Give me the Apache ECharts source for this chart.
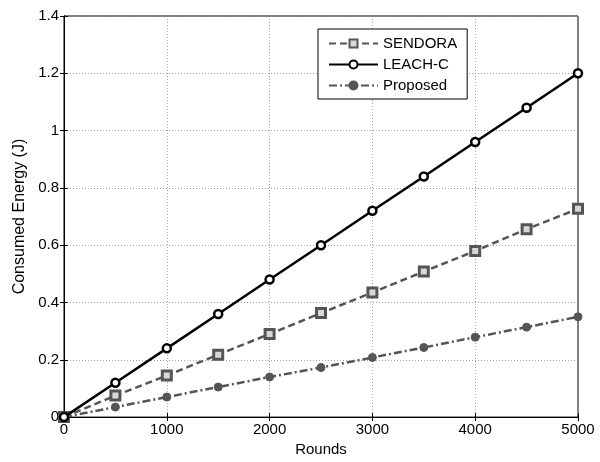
<!DOCTYPE html>
<html>
<head>
<meta charset="utf-8">
<script src="https://cdn.jsdelivr.net/npm/echarts@6/dist/echarts.min.js"></script>
<style>
html,body{margin:0;padding:0;background:#fff;}
#chart{width:600px;height:462px;}
</style>
</head>
<body>
<div id="chart"></div>
<script>
// Energy consumed per protocol over simulation rounds
const rounds = [0, 500, 1000, 1500, 2000, 2500, 3000, 3500, 4000, 4500, 5000];
const sendora = [0, 0.075, 0.145, 0.218, 0.29, 0.363, 0.435, 0.508, 0.58, 0.656, 0.727];
const leachC = [0, 0.12, 0.24, 0.36, 0.48, 0.60, 0.72, 0.84, 0.96, 1.08, 1.20];
const proposed = [0, 0.035, 0.07, 0.105, 0.14, 0.173, 0.208, 0.243, 0.279, 0.314, 0.35];
const seriesNames = ['SENDORA', 'LEACH-C', 'Proposed'];

const pairs = (ys) => rounds.map((x, i) => [x, ys[i]]);
const font = 'Liberation Sans, Arial, sans-serif';

const chart = echarts.init(document.getElementById('chart'));
const gridLine = { show: true, lineStyle: { color: '#8a8a8a', width: 0.8, type: [1, 2] } };
const frameTick = { inside: true, length: 4, lineStyle: { color: '#000' } };

chart.setOption({
  animation: false,
  backgroundColor: '#fff',
  grid: { left: 64, right: 22, top: 16, bottom: 41, show: true, borderColor: '#000', borderWidth: 1 },
  legend: {
    orient: 'vertical',
    left: 318, top: 29,
    itemWidth: 49, itemHeight: 10, itemGap: 4,
    padding: [6, 10, 5, 10],
    borderColor: '#000', borderWidth: 1,
    backgroundColor: '#fff',
    textStyle: { fontFamily: font, fontSize: 15, color: '#000', lineHeight: 17 },
    data: seriesNames
  },
  xAxis: [{
    type: 'value', min: 0, max: 5000, interval: 1000,
    name: 'Rounds', nameLocation: 'middle', nameGap: 24,
    nameTextStyle: { fontFamily: font, fontSize: 15, color: '#000' },
    axisLine: { lineStyle: { color: '#000' } },
    axisTick: frameTick,
    axisLabel: { fontFamily: font, fontSize: 15, color: '#000', margin: 5,
      formatter: v => String(v) },
    splitLine: gridLine
  }, {
    type: 'value', position: 'top', min: 0, max: 5000, interval: 1000,
    axisLine: { lineStyle: { color: '#000' } },
    axisTick: frameTick,
    axisLabel: { show: false }, splitLine: { show: false }
  }],
  yAxis: [{
    type: 'value', min: 0, max: 1.4, interval: 0.2,
    name: 'Consumed Energy (J)', nameLocation: 'middle', nameGap: 35,
    nameTextStyle: { fontFamily: font, fontSize: 16, color: '#000' },
    axisLine: { lineStyle: { color: '#000' } },
    axisTick: frameTick,
    axisLabel: { fontFamily: font, fontSize: 15, color: '#000', margin: 5,
      formatter: v => String(+v.toFixed(1)) },
    splitLine: gridLine
  }, {
    type: 'value', position: 'right', min: 0, max: 1.4, interval: 0.2,
    axisLine: { lineStyle: { color: '#000' } },
    axisTick: frameTick,
    axisLabel: { show: false }, splitLine: { show: false }
  }],
  series: [{
    name: seriesNames[0], type: 'line', data: pairs(sendora),
    symbol: 'rect', symbolSize: 9,
    lineStyle: { color: '#555', width: 2.5, type: [7, 4] },
    itemStyle: { color: '#d8d8d8', borderColor: '#555', borderWidth: 3 },
    z: 3
  }, {
    name: seriesNames[1], type: 'line', data: pairs(leachC),
    symbol: 'circle', symbolSize: 8,
    lineStyle: { color: '#000', width: 2.5, type: 'solid' },
    itemStyle: { color: '#fff', borderColor: '#000', borderWidth: 2.5 },
    z: 4
  }, {
    name: seriesNames[2], type: 'line', data: pairs(proposed),
    symbol: 'circle', symbolSize: 8,
    lineStyle: { color: '#555', width: 2.5, type: [8, 3, 2, 3] },
    itemStyle: { color: '#555', borderColor: '#555', borderWidth: 1 },
    z: 3
  }]
});
</script>
</body>
</html>
